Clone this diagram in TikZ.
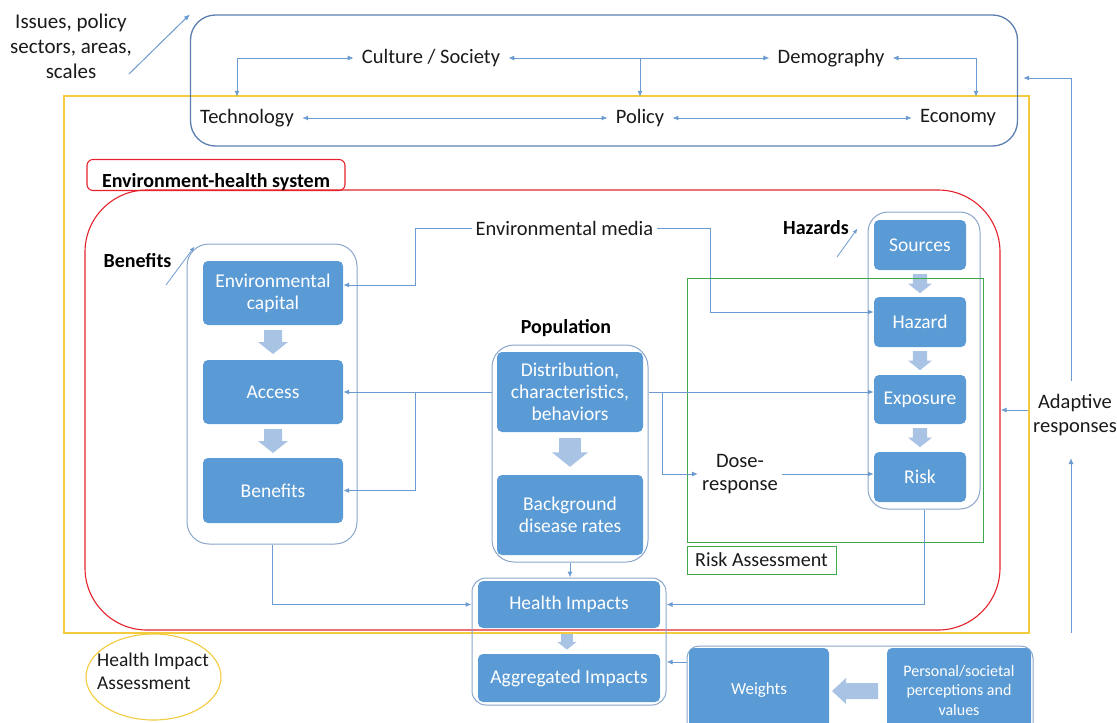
\documentclass[tikz,border=0pt]{standalone}
\usepackage{fontspec}
\setmainfont{Carlito}
\usetikzlibrary{arrows.meta,shapes.geometric}

\definecolor{boxblue}{HTML}{5B9BD5}
\definecolor{lineblue}{HTML}{6B9BD0}
\definecolor{grpblue}{HTML}{8AA6CB}
\definecolor{topblue}{HTML}{5B7EAF}
\definecolor{blockfill}{HTML}{A9C3E4}
\definecolor{hiared}{HTML}{E5222C}
\definecolor{hiayellow}{HTML}{F3CB3C}
\definecolor{riskgreen}{HTML}{3EA84B}
\definecolor{inkgrey}{HTML}{1A1A1A}

\tikzset{
  lbl/.style={font=\fontsize{20.5}{24}\selectfont, text=inkgrey},
  boldlbl/.style={font=\bfseries\fontsize{20}{24}\selectfont, text=black},
  toplbl/.style={lbl, inner xsep=8pt, minimum height=42pt},
  box/.style={fill=boxblue, text=white, rounded corners=5pt, align=center,
    font=\fontsize{19.5}{22}\selectfont, inner sep=2pt},
  grp/.style={draw=grpblue, line width=1pt, rounded corners=22pt},
  conn/.style={draw=lineblue, line width=1pt, -{Latex[length=6pt,width=5pt]}},
  biconn/.style={conn, {Latex[length=6pt,width=5pt]}-{Latex[length=6pt,width=5pt]}},
  thinconn/.style={draw=lineblue, line width=0.8pt, -{Latex[length=5pt,width=4pt]}},
  pics/blockdn/.style={code={
    \fill[blockfill] (-9,0) -- (9,0) -- (9,12) -- (15,12) -- (0,24) -- (-15,12) -- (-9,12) -- cycle;}},
  pics/blockleft/.style={code={
    \fill[blockfill] (0,0) -- (14,-13) -- (14,-8) -- (46,-8) -- (46,8) -- (14,8) -- (14,13) -- cycle;}}
}

\begin{document}
\begin{tikzpicture}[x=1pt,y=-1pt]
\useasboundingbox (0,0) rectangle (1117,723);

% ---- frames ----
\node[draw=hiayellow, line width=1.2pt, minimum width=965, minimum height=537, inner sep=0] (hia) at (546.5,364.5) {};
\node[draw=topblue, line width=1.3pt, rounded corners=25pt, minimum width=827, minimum height=131, inner sep=0] (topgrp) at (604,80.5) {};
\node[draw=hiared, line width=1.1pt, rounded corners=62pt, minimum width=915, minimum height=440, inner sep=0] (ehsys) at (542.5,410) {};
\node[draw=hiared, line width=1.1pt, rounded corners=6pt, minimum width=258, minimum height=31, inner ysep=1pt,
      text height=24pt, text depth=0pt, font=\bfseries\fontsize{20}{24}\selectfont] (ehlabel) at (216,175) {Environment-health system};

% ---- policy context ----
\node[lbl, align=center, font=\fontsize{21}{25}\selectfont] (issues) at (71,46) {Issues, policy\\sectors, areas,\\scales};
\coordinate (issuestail) at (129,74);
\draw[conn] (issuestail) -- (topgrp.north west);

\node[toplbl] (tech) at (247,118) {Technology};
\node[toplbl] (culture) at (431,58) {Culture / Society};
\node[toplbl] (demog) at (831,58) {Demography};
\node[toplbl] (policy) at (640,118) {Policy};
\node[toplbl] (econ) at (958,118) {Economy};

\draw[biconn] ([xshift=-10pt]tech.north) |- (culture.west);
\draw[biconn] (culture.east) -- (demog.west);
\draw[conn] (culture.east -| policy.north) -- (policy.north);
\draw[biconn] (demog.east) -| ([xshift=18pt]econ.north);
\draw[biconn] (tech.east) -- (policy.west);
\draw[biconn] (policy.east) -- (econ.west);

% ---- benefits column ----
\node[grp, minimum width=170, minimum height=300, inner sep=0] (bengrp) at (272,394) {};
\node[box, minimum width=140, minimum height=64] (envcap) at (273,293) {Environmental\\capital};
\node[box, minimum width=140, minimum height=64] (access) at (273,392) {Access};
\node[box, minimum width=140, minimum height=65] (benefitsbox) at (273,490.5) {Benefits};
\pic at (273,330) {blockdn};
\pic at (273,429) {blockdn};
\node[boldlbl] (benlbl) at (137.5,261) {Benefits};
\coordinate (bentail) at (166,285);
\draw[thinconn] (bentail) -- ([shift={(8,3)}]bengrp.north west);

% ---- environmental media ----
\node[lbl] (envmedia) at (564.5,228) {Environmental media};
\coordinate (emL) at (415,228);
\coordinate (emR) at (710,228);
\draw[conn] (envmedia.west) -- (emL) |- ([shift={(0,-8)}]envcap.east);

% ---- population column ----
\node[boldlbl] (poplbl) at (566,328) {Population};
\node[grp, minimum width=156, minimum height=217, inner sep=0] (popgrp) at (570,453.5) {};
\node[box, minimum width=146, minimum height=80] (distrib) at (570,392) {Distribution,\\characteristics,\\behaviors};
\node[box, minimum width=146, minimum height=80] (background) at (570,515) {Background\\disease rates};
\pic[scale=1.2] at (570,438) {blockdn};

% ---- hazards column ----
\node[grp, rounded corners=20pt, minimum width=112, minimum height=297, inner sep=0] (hazgrp) at (924,360.5) {};
\node[box, minimum width=92, minimum height=50] (sources) at (920,245) {Sources};
\node[box, minimum width=92, minimum height=50] (hazard) at (920,322) {Hazard};
\node[box, minimum width=92, minimum height=49] (exposure) at (920,399.5) {Exposure};
\node[box, minimum width=92, minimum height=50] (risk) at (920,477) {Risk};
\pic[scale=0.8] at (920,274) {blockdn};
\pic[scale=0.8] at (920,351) {blockdn};
\pic[scale=0.8] at (920,428) {blockdn};
\node[boldlbl] (hazlbl) at (816,228) {Hazards};
\coordinate (haztail) at (837,257);
\draw[thinconn] (haztail) -- ([shift={(-10,17)}]hazgrp.north west);

\draw[conn] (envmedia.east) -- (emR) |- ([shift={(0,-10)}]hazard.west);

% ---- risk assessment ----
\node[draw=riskgreen, line width=1pt, minimum width=296, minimum height=264, inner sep=0] (rabox) at (835,410.5) {};
\node[draw=riskgreen, line width=1pt, minimum width=149, minimum height=28, inner sep=0,
      lbl, font=\fontsize{20}{22}\selectfont] (ralabel) at (761.5,560) {Risk Assessment};
\node[lbl, align=center, inner xsep=4pt, font=\fontsize{20.5}{23}\selectfont] (dose) at (740,474) {Dose-\\response};

% ---- population links ----
\coordinate (jL) at (415,392);
\coordinate (jR) at (662,392);
\draw[conn] (popgrp.west |- access.east) -- (access.east);
\draw[conn] (jL) |- (benefitsbox.east);
\draw[conn] (popgrp.east |- access.east) -- (exposure.west |- access.east);
\draw[conn] (jR) |- (dose.west);
\draw[conn] (dose.east) -- (dose.east -| risk.west);

% ---- health impacts ----
\node[grp, rounded corners=14pt, minimum width=194, minimum height=127, inner sep=0] (higrp) at (569,641.5) {};
\node[box, minimum width=182, minimum height=47] (hibox) at (569,604.5) {Health Impacts};
\node[box, minimum width=182, minimum height=48] (aggbox) at (569,678) {Aggregated Impacts};
\pic[scale=0.65] at (567,634) {blockdn};
\draw[conn] (popgrp.south) -- (popgrp.south |- higrp.north);
\draw[conn] (bengrp.south) |- (higrp.west |- hibox.center);
\draw[conn] (hazgrp.south) |- (higrp.east |- hibox.center);

% ---- weights ----
\node[grp, rounded corners=12pt, minimum width=346, minimum height=89, inner sep=0] (wgrp) at (860,690.5) {};
\node[box, minimum width=140, minimum height=84, font=\fontsize{17}{20}\selectfont] (weights) at (759,690) {Weights};
\node[box, minimum width=144, minimum height=84, font=\fontsize{16}{19.5}\selectfont] (percept) at (959,690) {Personal/societal\\perceptions and\\values};
\pic at (832,691) {blockleft};
\draw[conn] (wgrp.west |- 0,662) -- (higrp.east |- 0,662);

% ---- health impact assessment ----
\node[draw=hiayellow, line width=1.1pt, ellipse, minimum width=135, minimum height=86, inner sep=0] (hiacirc) at (153.5,677) {};
\node[lbl, align=left, inner sep=0, font=\fontsize{19.5}{23}\selectfont] (hiatext) at (153,671.5) {Health Impact\\Assessment};

% ---- adaptive responses ----
\node[lbl, align=center, font=\fontsize{20.5}{24}\selectfont] (adapt) at (1075,415) {Adaptive\\responses};
\coordinate (adcorner) at (1071,78);
\coordinate (adbase) at (1071,633);
\coordinate (adtip) at (1071,458);
\coordinate (adleft) at (1028,410);
\coordinate (adtop) at (1071,381);
\draw[conn, shorten >=5pt] (adtop) -- (adcorner) -- (topgrp.east |- adcorner);
\draw[conn] (adbase) -- (adtip);
\draw[conn] (adleft) -- (ehsys.east |- adleft);
\end{tikzpicture}
\end{document}
